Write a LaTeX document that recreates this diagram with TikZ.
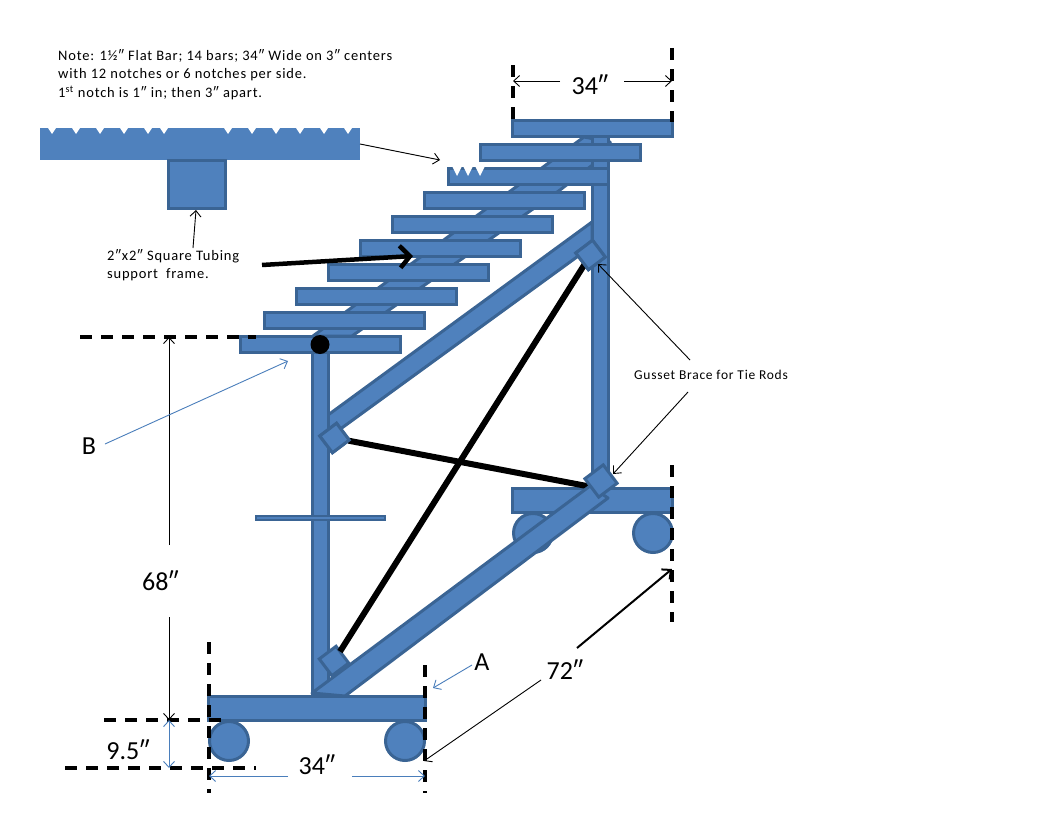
\documentclass[tikz,border=0pt]{standalone}
\usepackage{fontspec}
\setmainfont{Carlito}
\newfontfamily\notefont[LetterSpace=5.5]{Carlito}
\usetikzlibrary{arrows.meta}
\definecolor{barfill}{HTML}{4F81BD}
\definecolor{barline}{HTML}{3A6494}
\definecolor{leaderblue}{HTML}{4A7EBB}
\begin{document}
\begin{tikzpicture}[x=1pt, y=-1pt]
    \tikzstyle{graph bar} = [rectangle,draw=barline,fill=barfill,line width=3pt,inner sep=0pt,outer sep=0pt]
    \tikzstyle{graph tread} = [graph bar, minimum width=160pt, minimum height=16pt]
    \tikzstyle{graph gusset} = [graph bar, minimum size=21pt, rotate=37]
    \tikzstyle{graph wheel} = [graph bar, circle, minimum size=39pt]
    \tikzstyle{graph brace} = [draw=barline,fill=barfill,line width=3pt,line join=round]
    \tikzstyle{graph rod} = [draw=black,line width=6pt]
    \tikzstyle{graph dash} = [draw=black,line width=3.5pt,dash pattern=on 12pt off 9pt]
    \tikzstyle{graph leader} = [draw=black,line width=0.9pt, ->, >={Straight Barb[length=6pt,width=11pt]}]
    \tikzstyle{graph leader blue} = [graph leader, draw=leaderblue]
    \tikzstyle{graph leader heavy} = [draw=black,line width=2pt, ->, >={Straight Barb[length=7pt,width=13pt]}]
    \tikzstyle{graph leader bold} = [draw=black,line width=4.5pt, ->, >={Straight Barb[length=10pt,width=22pt]}]
    \tikzstyle{graph dim} = [inner sep=0pt, font=\fontsize{26}{26}\selectfont]
    \tikzstyle{graph note} = [inner sep=0pt, anchor=west, font=\fontsize{14.5}{14.5}\notefont]
\useasboundingbox (0,0) rectangle (1056,816);
% stringer behind the treads
\draw[graph brace] (313,336) -- (352,336) -- (560,190) -- (612,150) -- (610,142) -- (584,137) -- cycle;
% wheels
\node[graph wheel] (wheel1) at (229,741) {};
\node[graph wheel] (wheel2) at (405,741) {};
\node[graph wheel] (wheel3) at (533,533) {};
\node[graph wheel] (wheel4) at (653,533) {};
% posts and upper brace
\draw[graph brace] (328,415) -- (592,222) -- (592,246) -- (328,438) -- cycle;
\node[graph bar, minimum width=16pt, minimum height=343pt] (postleft) at (320,523.5) {};
\node[graph bar, minimum width=16pt, minimum height=354pt] (postright) at (600,313) {};
\node[graph bar, line width=2pt, minimum width=129pt, minimum height=4.5pt] (stepbar) at (320.5,518) {};
% bases
\node[graph bar, minimum width=217pt, minimum height=24pt] (baseleft) at (316.5,708) {};
\node[graph bar, minimum width=160pt, minimum height=24pt] (baseright) at (592,500) {};
% rod ends
\node[graph gusset] (gusset1) at (590.5,255) {};
\node[graph gusset] (gusset2) at (334.5,438) {};
\node[graph gusset] (gusset4) at (334,661) {};
\coordinate (rodend) at (592,487);
% tie rods
\draw[graph rod] (gusset4) -- (gusset1);
\draw[graph rod] (gusset2) -- (rodend);
% lower brace
\draw[graph brace] (312,693) -- (590,486) -- (608,498) -- (345,696) -- cycle;
% gussets over the rods
\node[graph gusset, minimum size=23pt] (gusset3) at (601,481) {};
\node[graph gusset] at (590.5,255) {};
\node[graph gusset] at (334.5,438) {};
% treads
\node[graph tread] (tread1) at (592,128) {};
\node[graph tread] (tread2) at (560,152) {};
\node[graph tread] (tread3) at (528,176) {};
\node[graph tread] (tread4) at (504,200) {};
\node[graph tread] (tread5) at (472,224) {};
\node[graph tread] (tread6) at (440,248) {};
\node[graph tread] (tread7) at (408,272) {};
\node[graph tread] (tread8) at (376,296) {};
\node[graph tread] (tread9) at (344,320) {};
\node[graph tread] (tread10) at (320,344) {};
\fill[white] (452,166) -- (462,166) -- (457,176) -- cycle;
\fill[white] (463,166) -- (473,166) -- (468,176) -- cycle;
\fill[white] (475,166) -- (485,166) -- (480,176) -- cycle;
\node[circle,fill=black,inner sep=0pt,minimum size=19pt] (pivot) at (320,344.5) {};
% notched flat bar and tube section
\fill[barfill] (40,128) rectangle (360,160);
\fill[white] (48,128) -- (56,128) -- (52,134) -- cycle;
\fill[white] (72,128) -- (80,128) -- (76,134) -- cycle;
\fill[white] (96,128) -- (104,128) -- (100,134) -- cycle;
\fill[white] (120,128) -- (128,128) -- (124,134) -- cycle;
\fill[white] (144,128) -- (152,128) -- (148,134) -- cycle;
\fill[white] (160,128) -- (168,128) -- (164,134) -- cycle;
\fill[white] (224,128) -- (232,128) -- (228,134) -- cycle;
\fill[white] (248,128) -- (256,128) -- (252,134) -- cycle;
\fill[white] (272,128) -- (280,128) -- (276,134) -- cycle;
\fill[white] (296,128) -- (304,128) -- (300,134) -- cycle;
\fill[white] (320,128) -- (328,128) -- (324,134) -- cycle;
\fill[white] (344,128) -- (352,128) -- (348,134) -- cycle;
\node[graph bar, minimum width=57pt, minimum height=48pt] (tube) at (196.5,184) {};
% texts
\node[graph note] (note1) at (58,56) {Note: 1½″ Flat Bar; 14 bars; 34″ Wide on 3″ centers};
\node[graph note] (note2) at (58,75) {with 12 notches or 6 notches per side.};
\node[graph note] (note3) at (58,93) {1\textsuperscript{st} notch is 1″ in; then 3″ apart.};
\node[graph note] (tube1) at (107,256) {2″x2″ Square Tubing};
\node[graph note] (tube2) at (107,275) {support\ \ frame.};
\node[graph note, font=\fontsize{13.5}{13.5}\notefont] (gussetlabel) at (634,375) {Gusset Brace for Tie Rods};
\node[graph dim] (dimtop) at (590,85) {34″};
\node[graph dim] (dimheight) at (160.5,581) {68″};
\node[graph dim] (dimwheel) at (128,750) {9.5″};
\node[graph dim] (dimbottom) at (317,765) {34″};
\node[graph dim] (dimlength) at (565,670) {72″};
\node[graph dim] (labelA) at (482,662) {A};
\node[graph dim] (labelB) at (89,446) {B};
% dashed guide lines
\coordinate (g1a) at (513,65);   \coordinate (g1b) at (513,120);
\coordinate (g2a) at (672,48);   \coordinate (g2b) at (672,122);
\coordinate (g3a) at (80,337);   \coordinate (g3b) at (256,337);
\coordinate (g4a) at (209,642);  \coordinate (g4b) at (209,793);
\coordinate (g5a) at (425,665);  \coordinate (g5b) at (425,793);
\coordinate (g6a) at (104,720);  \coordinate (g6b) at (222,720);
\coordinate (g7a) at (65,768);   \coordinate (g7b) at (256,768);
\coordinate (g8a) at (672,465);  \coordinate (g8b) at (672,622);
\draw[graph dash] (g1a) -- (g1b);
\draw[graph dash] (g2a) -- (g2b);
\draw[graph dash] (g3a) -- (g3b);
\draw[graph dash] (g4a) -- (g4b);
\draw[graph dash] (g5a) -- (g5b);
\draw[graph dash] (g6a) -- (g6b);
\draw[graph dash] (g7a) -- (g7b);
\draw[graph dash] (g8a) -- (g8b);
% arrows
\coordinate (a1) at (560,81);   \coordinate (a2) at (624,81);
\coordinate (a3) at (513,81);   \coordinate (a4) at (672,81);
\coordinate (a5) at (169,545);  \coordinate (a6) at (169,337);
\coordinate (a7) at (169,617);  \coordinate (a8) at (169,720);
\coordinate (a9) at (169,768);
\coordinate (a10) at (288,776); \coordinate (a11) at (209,776);
\coordinate (a12) at (352,776); \coordinate (a13) at (425,776);
\coordinate (a14) at (472,665); \coordinate (a15) at (433,688);
\coordinate (a16) at (541,680); \coordinate (a17) at (424,761);
\coordinate (a18) at (577,648); \coordinate (a19) at (672,569);
\coordinate (a20) at (105,444); \coordinate (a21) at (288,361);
\coordinate (a22) at (360,144); \coordinate (a23) at (440,160);
\coordinate (a24) at (193,248); \coordinate (a25) at (196,210);
\coordinate (a26) at (262,265); \coordinate (a27) at (413,256);
\coordinate (a28) at (690,360); \coordinate (a29) at (598,264);
\coordinate (a30) at (688,392); \coordinate (a31) at (613,474);
\draw[graph leader] (a1) to (a3);
\draw[graph leader] (a2) to (a4);
\draw[graph leader] (a5) to (a6);
\draw[graph leader] (a7) to (a8);
\draw[graph leader blue, <->] (a8) to (a9);
\draw[graph leader blue] (a10) to (a11);
\draw[graph leader blue] (a12) to (a13);
\draw[graph leader blue] (a14) to (a15);
\draw[graph leader] (a16) to (a17);
\draw[graph leader heavy] (a18) to (a19);
\draw[graph leader blue] (a20) to (a21);
\draw[graph leader] (a22) to (a23);
\draw[graph leader] (a24) to (a25);
\draw[graph leader bold] (a26) to (a27);
\draw[graph leader] (a28) to (a29);
\draw[graph leader] (a30) to (a31);
\end{tikzpicture}
\end{document}
